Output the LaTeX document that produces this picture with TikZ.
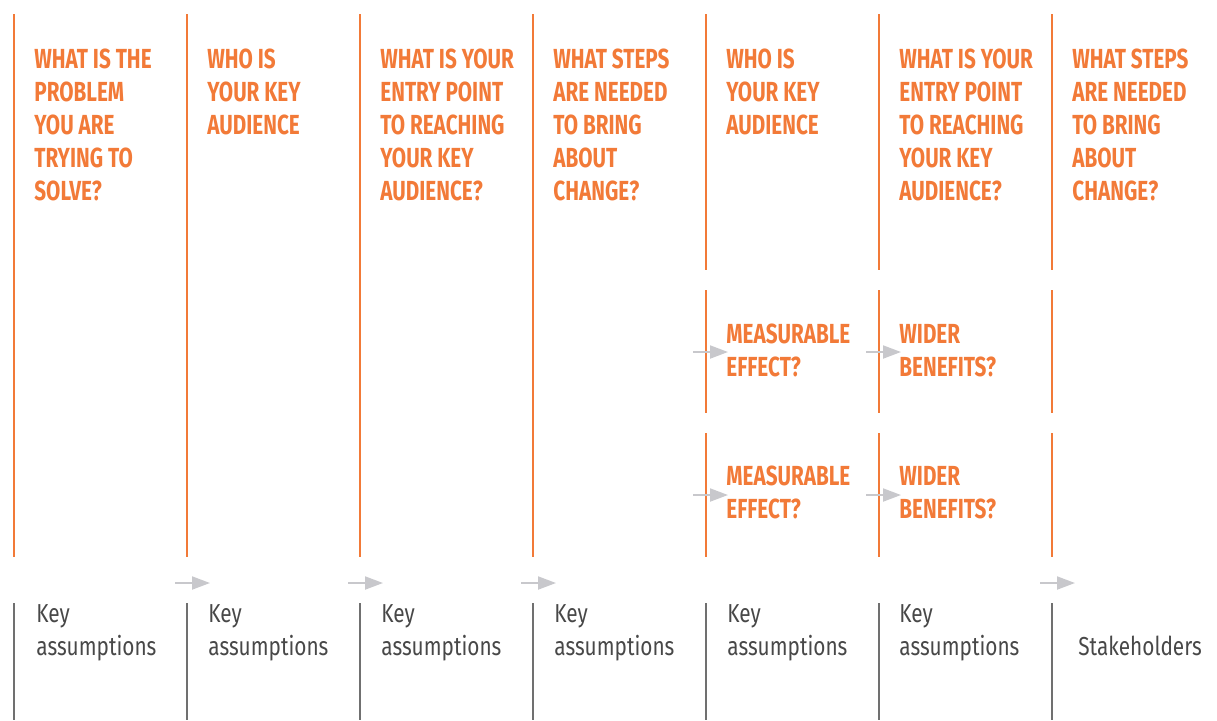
\documentclass[tikz,border=0pt]{standalone}
\usepackage{fontspec}
\newfontfamily\headfont[FakeStretch=0.75]{Fira Sans}
\newfontfamily\notefont[FakeStretch=0.8]{Fira Sans}
\usetikzlibrary{arrows.meta}
\definecolor{qorange}{RGB}{242,122,56}
\definecolor{qgray}{RGB}{112,112,112}
\definecolor{qtext}{RGB}{72,72,72}
\definecolor{qarrow}{RGB}{200,200,204}
\tikzstyle{question}=[anchor=base west,inner sep=0pt,align=left,text=qorange,font=\headfont\bfseries\fontsize{13.8}{16.5}\selectfont]
\tikzstyle{note}=[anchor=base west,inner sep=0pt,align=left,text=qtext,font=\notefont\fontsize{13}{16.5}\selectfont]
\tikzstyle{rule}=[line width=1.25pt,draw=qorange]
\tikzstyle{footrule}=[line width=1pt,draw=qgray]
\tikzstyle{flow}=[line width=1pt,draw=qarrow,-{Triangle[length=9pt,width=6.5pt]}]

\begin{document}
\begin{tikzpicture}[x=0.5pt,y=-0.5pt]
	\useasboundingbox (0,0) rectangle (1217,720);

	% questions (placed at the baseline of their last line)
	\node [question] (q1) at (34,200) {WHAT IS THE\\PROBLEM\\YOU ARE\\TRYING TO\\SOLVE?};
	\node [question] (q2) at (207,134) {WHO IS\\YOUR KEY\\AUDIENCE};
	\node [question] (q3) at (380,200) {WHAT IS YOUR\\ENTRY POINT\\TO REACHING\\YOUR KEY\\AUDIENCE?};
	\node [question] (q4) at (553,200) {WHAT STEPS\\ARE NEEDED\\TO BRING\\ABOUT\\CHANGE?};
	\node [question] (q5) at (726,134) {WHO IS\\YOUR KEY\\AUDIENCE};
	\node [question] (q6) at (899,200) {WHAT IS YOUR\\ENTRY POINT\\TO REACHING\\YOUR KEY\\AUDIENCE?};
	\node [question] (q7) at (1072,200) {WHAT STEPS\\ARE NEEDED\\TO BRING\\ABOUT\\CHANGE?};

	\node [question] (m1) at (726,376) {MEASURABLE\\EFFECT?};
	\node [question] (w1) at (899,376) {WIDER\\BENEFITS?};
	\node [question] (m2) at (726,518) {MEASURABLE\\EFFECT?};
	\node [question] (w2) at (899,518) {WIDER\\BENEFITS?};

	% assumptions
	\node [note] (k1) at (36,655) {Key\\assumptions};
	\node [note] (k2) at (208,655) {Key\\assumptions};
	\node [note] (k3) at (381,655) {Key\\assumptions};
	\node [note] (k4) at (554,655) {Key\\assumptions};
	\node [note] (k5) at (727,655) {Key\\assumptions};
	\node [note] (k6) at (899,655) {Key\\assumptions};
	\node [note] (s7) at (1078,655) {Stakeholders};

	% orange rules
	\draw [rule] (14,14) -- (14,557);
	\draw [rule] (187,14) -- (187,557);
	\draw [rule] (360,14) -- (360,557);
	\draw [rule] (533,14) -- (533,557);
	\draw [rule] (706,14) -- (706,270);
	\draw [rule] (706,290) -- (706,413);
	\draw [rule] (706,433) -- (706,557);
	\draw [rule] (879,14) -- (879,270);
	\draw [rule] (879,290) -- (879,413);
	\draw [rule] (879,433) -- (879,557);
	\draw [rule] (1052,14) -- (1052,270);
	\draw [rule] (1052,290) -- (1052,413);
	\draw [rule] (1052,433) -- (1052,557);

	% grey rules
	\draw [footrule] (14,603) -- (14,720);
	\draw [footrule] (187,603) -- (187,720);
	\draw [footrule] (360,603) -- (360,720);
	\draw [footrule] (533,603) -- (533,720);
	\draw [footrule] (706,603) -- (706,720);
	\draw [footrule] (879,603) -- (879,720);
	\draw [footrule] (1052,603) -- (1052,720);

	% arrows
	\coordinate (b2s) at (175,583); \coordinate (b2e) at (210,583);
	\coordinate (b3s) at (348,583); \coordinate (b3e) at (383,583);
	\coordinate (b4s) at (521,583); \coordinate (b4e) at (556,583);
	\coordinate (b7s) at (1040,583); \coordinate (b7e) at (1075,583);
	\coordinate (m1s) at (693,352); \coordinate (m1e) at (728,352);
	\coordinate (m2s) at (693,495); \coordinate (m2e) at (728,495);
	\coordinate (w1s) at (866,352); \coordinate (w1e) at (901,352);
	\coordinate (w2s) at (866,495); \coordinate (w2e) at (901,495);

	\draw [flow] (b2s) -- (b2e);
	\draw [flow] (b3s) -- (b3e);
	\draw [flow] (b4s) -- (b4e);
	\draw [flow] (b7s) -- (b7e);
	\draw [flow] (m1s) -- (m1e);
	\draw [flow] (m2s) -- (m2e);
	\draw [flow] (w1s) -- (w1e);
	\draw [flow] (w2s) -- (w2e);
\end{tikzpicture}
\end{document}
